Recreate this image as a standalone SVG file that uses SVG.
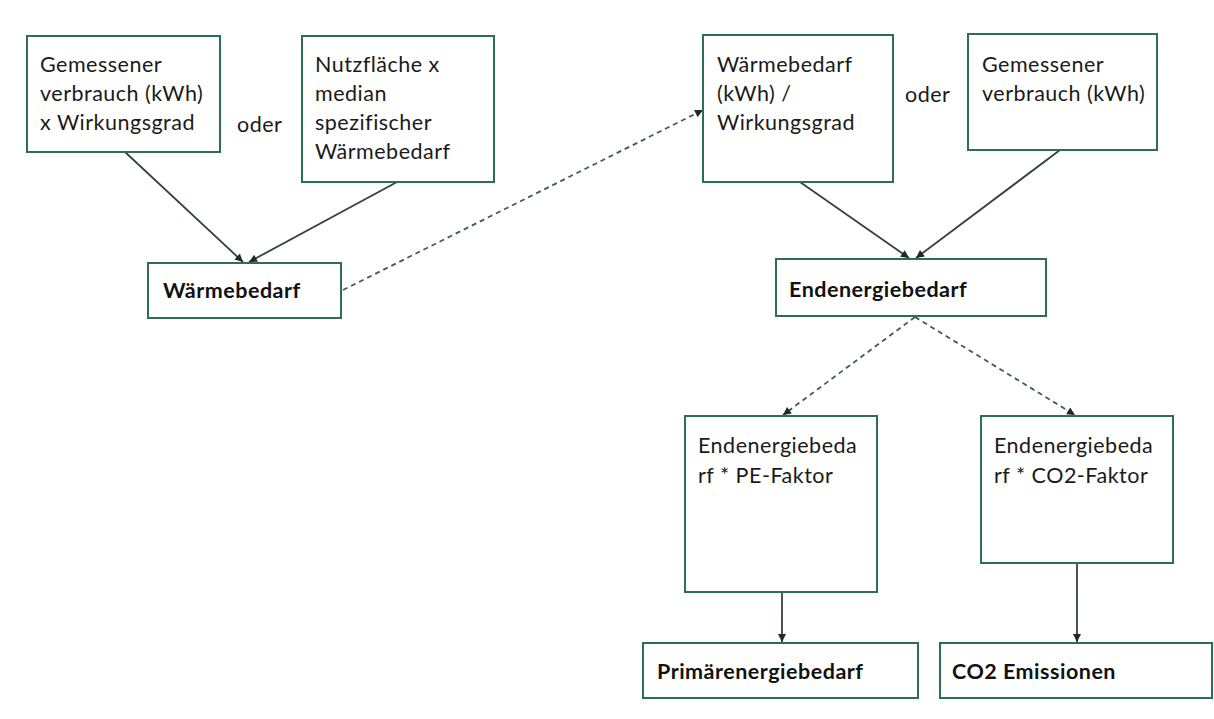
<svg xmlns="http://www.w3.org/2000/svg" width="1214" height="719" viewBox="0 0 1214 719">
<style>
.box{fill:#ffffff;stroke:#2e6e58;stroke-width:2}
.t{font-family:Lato,"Liberation Sans",sans-serif;font-size:21.5px;letter-spacing:0.5px;fill:#1a1a1a}
.b{font-family:Lato,"Liberation Sans",sans-serif;font-size:21.5px;letter-spacing:0.5px;font-weight:bold;fill:#111111}
.c{fill:none;stroke:#34423d;stroke-width:1.8}
.d{fill:none;stroke:#4a5752;stroke-width:1.8;stroke-dasharray:5 4}
</style>
<defs>
<marker id="ah" viewBox="0 0 10 10" refX="10" refY="5" markerWidth="10" markerHeight="8" markerUnits="userSpaceOnUse" orient="auto">
<path d="M0,0 L10,5 L0,10 z" fill="#1f2a26"/>
</marker>
</defs>
<rect width="1214" height="719" fill="#ffffff"/>
<g id="connectors">
<line class="c" x1="125" y1="152" x2="243" y2="262" marker-end="url(#ah)"/>
<line class="c" x1="397" y1="182" x2="249" y2="262" marker-end="url(#ah)"/>
<line class="d" x1="343" y1="290" x2="703" y2="110" marker-end="url(#ah)"/>
<line class="c" x1="800" y1="182" x2="909" y2="258" marker-end="url(#ah)"/>
<line class="c" x1="1060" y1="150" x2="916" y2="258" marker-end="url(#ah)"/>
<line class="d" x1="915" y1="317" x2="783" y2="415" marker-end="url(#ah)"/>
<line class="d" x1="915" y1="317" x2="1075" y2="415" marker-end="url(#ah)"/>
<line class="c" x1="782" y1="592" x2="782" y2="642" marker-end="url(#ah)"/>
<line class="c" x1="1077" y1="563" x2="1077" y2="642" marker-end="url(#ah)"/>
</g>
<g id="n1">
<rect class="box" x="27" y="36" width="193" height="116"/>
<text class="t" x="40" y="72">Gemessener</text>
<text class="t" x="40" y="101">verbrauch (kWh)</text>
<text class="t" x="40" y="130">x Wirkungsgrad</text>
</g>
<g id="oder1"><text class="t" x="237" y="132">oder</text></g>
<g id="n2">
<rect class="box" x="302" y="36" width="192" height="146"/>
<text class="t" x="315" y="72">Nutzfläche x</text>
<text class="t" x="315" y="101">median</text>
<text class="t" x="315" y="130">spezifischer</text>
<text class="t" x="315" y="159">Wärmebedarf</text>
</g>
<g id="n3">
<rect class="box" x="148" y="263" width="193" height="55"/>
<text class="b" x="163" y="298">Wärmebedarf</text>
</g>
<g id="n4">
<rect class="box" x="703" y="35" width="190" height="147"/>
<text class="t" x="717" y="72">Wärmebedarf</text>
<text class="t" x="717" y="101">(kWh) /</text>
<text class="t" x="717" y="130">Wirkungsgrad</text>
</g>
<g id="oder2"><text class="t" x="905" y="102">oder</text></g>
<g id="n5">
<rect class="box" x="968" y="34" width="189" height="116"/>
<text class="t" x="982" y="72">Gemessener</text>
<text class="t" x="982" y="101">verbrauch (kWh)</text>
</g>
<g id="n6">
<rect class="box" x="776" y="259" width="270" height="57"/>
<text class="b" x="789" y="297">Endenergiebedarf</text>
</g>
<g id="n7">
<rect class="box" x="685" y="416" width="192" height="176"/>
<text class="t" x="698" y="453">Endenergiebeda</text>
<text class="t" x="698" y="483">rf * PE-Faktor</text>
</g>
<g id="n8">
<rect class="box" x="981" y="416" width="192" height="147"/>
<text class="t" x="994" y="453">Endenergiebeda</text>
<text class="t" x="994" y="483">rf * CO2-Faktor</text>
</g>
<g id="n9">
<rect class="box" x="643" y="643" width="275" height="55"/>
<text class="b" x="657" y="679">Primärenergiebedarf</text>
</g>
<g id="n10">
<rect class="box" x="940" y="643" width="272" height="55"/>
<text class="b" x="952" y="679">CO2 Emissionen</text>
</g>
</svg>
